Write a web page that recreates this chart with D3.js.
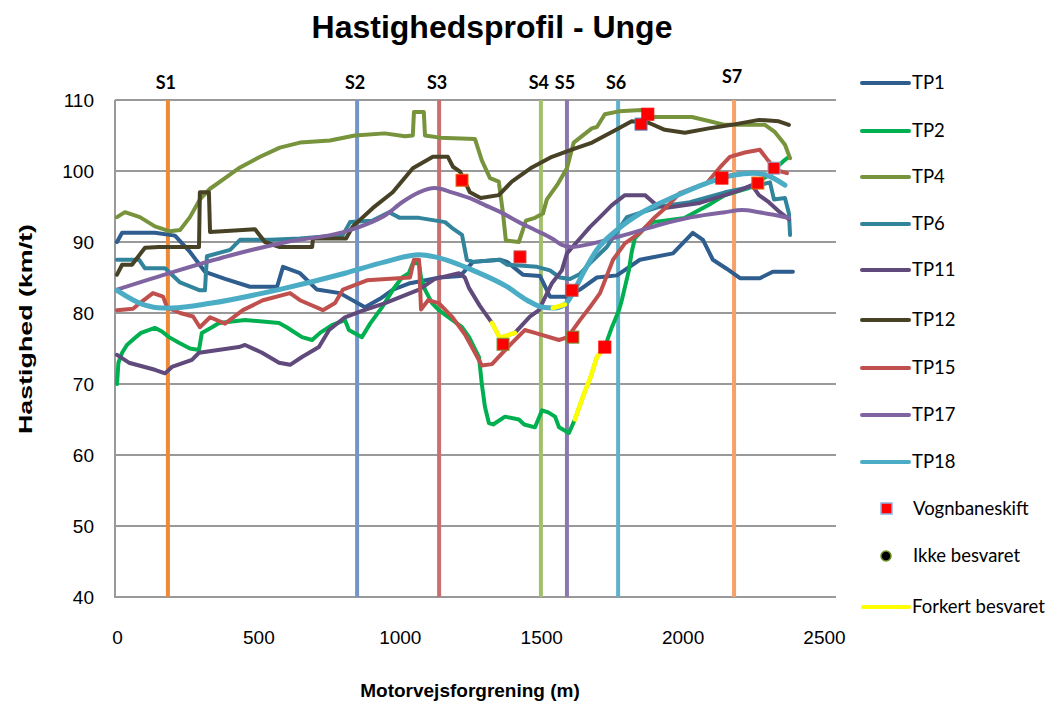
<!DOCTYPE html>
<html>
<head>
<meta charset="utf-8">
<script src="https://cdn.jsdelivr.net/npm/d3@7"></script>
<style>
  body { margin: 0; background: #fff; }
  text { font-family: "Liberation Sans", Arial, sans-serif; }
  .lbl { font-family: Lato, "Open Sans", sans-serif; }
</style>
</head>
<body>
<svg id="chart" width="1060" height="707"></svg>
<script>
// tick values
const xTicks = [0, 500, 1000, 1500, 2000, 2500]
const yTicks = [40, 50, 60, 70, 80, 90, 100, 110]

// the section markers S1..S7 (meters)
const sections = ['S1', 'S2', 'S3', 'S4', 'S5', 'S6', 'S7']
const sectionPos = [180, 849, 1139, 1499, 1591, 1772, 2182]

// speed traces, [meters, km/t]
const tp1 = [[0,90],[18,91.3],[134,91.3],[205,90.9],[258,88.6],[311,85.8],[382,84.8],[470,83.7],[566,83.7],[587,86.5],[647,85.6],[707,83.3],[788,82.8],[877,80.8],[930,82],[976,83.3],[1036,84.2],[1142,85],[1213,85.2],[1259,87.2],[1354,87.5],[1379,87.2],[1435,85.4],[1496,85.2],[1531,82.3],[1591,82.3],[1637,83.3],[1697,85],[1768,85.3],[1849,87.5],[1966,88.4],[2012,90.3],[2036,91.3],[2072,90.3],[2107,87.5],[2157,86.2],[2178,85.6],[2203,84.9],[2273,84.9],[2319,85.8],[2390,85.8]]
const tp2 = [[0,70],[5,73],[18,74.4],[35,75.5],[64,76.5],[85,77.2],[134,77.9],[159,77.4],[184,76.6],[219,75.8],[258,75],[290,74.8],[300,77.2],[336,78],[361,78.6],[453,79],[573,78.6],[600,78],[654,76.6],[690,76.2],[718,77.2],[760,78.3],[806,79],[820,77.6],[866,76.6],[895,78.5],[937,80.8],[976,83.3],[1008,85],[1032,85.6],[1046,87],[1068,87],[1075,85],[1089,83.3],[1114,81.4],[1138,80.4],[1220,78],[1245,76.6],[1280,73.8],[1290,70],[1301,66.8],[1315,64.5],[1330,64.3],[1372,65.4],[1421,65],[1440,64.3],[1478,63.9],[1503,66.3],[1525,66],[1549,65.4],[1563,63.9],[1598,63.1],[1619,65],[1650,68.5],[1675,71],[1697,73.8],[1725,75.2],[1750,78],[1775,80.4],[1785,81.8],[1810,86],[1820,88.6],[1831,90.5],[1867,92],[1895,92.8],[2008,93.4],[2100,95.4],[2150,96.6],[2234,97.6],[2270,98.6],[2305,99.4],[2335,100.6],[2360,101.5],[2376,102]]
const tp4 = [[0,93.5],[28,94.2],[81,93.5],[134,92.2],[187,91.5],[223,91.7],[258,93.5],[293,96],[329,97.5],[382,99],[435,100.5],[506,102],[576,103.3],[647,104],[753,104.3],[841,105],[947,105.3],[1018,104.9],[1046,105],[1050,108.3],[1085,108.3],[1089,105],[1142,104.7],[1266,104.5],[1290,101.5],[1319,99],[1350,98.5],[1365,94],[1375,90.2],[1421,90],[1446,93],[1478,93.4],[1506,94],[1520,96],[1556,98],[1591,100.4],[1615,104],[1679,106],[1697,106.2],[1725,108],[1775,108.4],[1856,108.6],[1891,107.6],[2033,107.6],[2096,107],[2149,106.5],[2291,106.5],[2326,105.5],[2344,104.6],[2362,103.7],[2380,101.8]]
const tp6 = [[0,87.5],[78,87.5],[99,86.3],[170,86.3],[223,84.3],[293,83.2],[311,83.2],[318,88],[400,88.9],[435,90.3],[516,90.3],[541,90.3],[647,90.5],[799,91],[824,92.8],[902,93],[962,94.2],[1000,93.4],[1068,93.4],[1160,92.8],[1184,92],[1220,91],[1237,87.5],[1259,87.2],[1354,87.5],[1379,86.8],[1485,86.5],[1531,86],[1566,85],[1602,84.8],[1637,85.5],[1672,87],[1732,89.3],[1803,93.5],[1920,95],[2026,95.6],[2150,97],[2270,98],[2309,98.4],[2323,96],[2362,96.2],[2376,94],[2380,91]]
const tp11 = [[0,74.1],[42,73],[134,72],[170,71.5],[194,72.4],[265,73.4],[290,74.4],[431,75.2],[453,75.5],[513,74.4],[573,73],[612,72.7],[654,73.8],[714,75.2],[750,77.6],[806,79.4],[859,80.2],[948,81.4],[1068,83.3],[1124,84.8],[1209,85.6],[1230,85],[1245,83.5],[1283,81],[1326,78.6],[1354,76.5],[1407,77.2],[1460,79.5],[1492,80.4],[1538,84.2],[1573,86],[1591,88.4],[1637,90.5],[1672,92.1],[1708,93.5],[1750,95.2],[1796,96.6],[1867,96.6],[1902,95.4],[1937,94.8],[2061,95.5],[2150,96.6],[2203,97.3],[2245,98],[2270,96.6],[2305,95.6],[2344,94.2],[2376,93.2]]
const tp12 = [[0,85.4],[18,86.8],[53,86.8],[99,89.2],[148,89.3],[290,89.3],[293,97],[325,97],[329,91.4],[488,91.8],[523,90],[573,89.3],[690,89.3],[693,90.5],[810,90.5],[834,92.2],[905,94.8],[975,97],[1046,100.4],[1117,102],[1170,102],[1188,100.6],[1213,99.9],[1248,97],[1286,96.2],[1350,96.6],[1396,98.5],[1467,100.5],[1538,102],[1608,103],[1680,104],[1750,105.5],[1820,107],[1880,106.8],[1937,105.8],[2008,105.4],[2093,106],[2174,106.5],[2270,107.2],[2340,107],[2376,106.5]]
const tp15 = [[0,80.4],[57,80.6],[81,81.4],[127,82.8],[163,82.3],[177,80.8],[223,80],[269,79.5],[293,78],[329,79.4],[382,78.5],[445,80.4],[516,81.8],[612,82.8],[647,81.8],[728,80.4],[771,81.4],[799,83.3],[884,84.6],[1036,85],[1050,87.5],[1068,87.5],[1075,80.5],[1100,81.8],[1138,81.4],[1184,79.5],[1230,77],[1266,74.4],[1290,72.6],[1326,72.8],[1354,74],[1397,75.8],[1442,77.6],[1478,77.2],[1563,76.2],[1594,76.6],[1637,79],[1672,80.8],[1708,82.8],[1754,87.5],[1796,89.8],[1849,91.3],[1902,93.5],[1945,95],[1990,96.9],[2086,98.3],[2132,100.5],[2167,102],[2220,102.6],[2273,103],[2302,101.5],[2333,100.1],[2369,99.7]]
const tp17 = [[0,83.3],[200,85.8],[400,88.1],[600,90],[800,91.4],[900,92.8],[950,93.8],[1008,95.6],[1068,97],[1124,97.6],[1184,97],[1245,96.2],[1301,95.2],[1361,94.1],[1421,92.8],[1478,91.7],[1538,90.5],[1573,89.6],[1608,89.3],[1680,89.8],[1796,91],[1916,92.4],[2033,93.5],[2150,94.2],[2210,94.5],[2270,94.2],[2326,93.8],[2376,93.4]]
const tp18 = [[0,83.2],[99,81.1],[159,80.7],[194,80.7],[336,81.4],[573,83.3],[806,85.6],[948,87.2],[1068,88.2],[1124,87.9],[1184,87.2],[1259,86],[1379,83.7],[1450,81.8],[1506,80.8],[1541,80.7],[1584,81.2],[1612,82.8],[1648,85.6],[1697,88.9],[1768,91.7],[1849,94],[1966,96.3],[2086,98.3],[2178,99.4],[2249,99.7],[2298,99.4],[2362,98]]

const seriesNames = ['TP1', 'TP2', 'TP4', 'TP6', 'TP11', 'TP12', 'TP15', 'TP17', 'TP18']
const seriesData = [tp1, tp2, tp4, tp6, tp11, tp12, tp15, tp17, tp18]
const seriesColors = ['#2e5d8e', '#00b050', '#77933c', '#31849b', '#604a7b', '#474226', '#c0504d', '#8064a2', '#4bacc6']
const smoothSeries = ['TP17', 'TP18']

// Vognbaneskift markers, [meters, km/t]
const vognbaneskift = [[1220,98.7],[1425,87.9],[1365,75.6],[1609,83.2],[1612,76.6],[1725,75.2],[1853,106.6],[1877,108],[2139,99],[2266,98.3],[2323,100.4]]
const vognBorder = ['#e36c09', '#c0504d', '#77933c', '#c0504d', '#77933c', '#ff0000', '#4f81bd', '#ff0000', '#ff0000', '#e36c09', '#8db3e2']

// Forkert besvaret stretches: series + meter range
const forkertSeries = ['TP11', 'TP18', 'TP2']
const forkertFrom = [1326, 1541, 1619]
const forkertTo = [1407, 1590, 1725]

const sectionColors = ['#ee8a37', '#7395ca', '#c8706f', '#a2c06a', '#8b78ae', '#5fb2ca', '#f7a068']

const svg = d3.select('#chart')

const x = d3.scaleLinear().domain([0, 2500]).range([117, 824])
const y = d3.scaleLinear().domain([40, 110]).range([597, 100])
const gridRight = 836

// title
svg.append('text')
  .attr('x', 492).attr('y', 38)
  .attr('text-anchor', 'middle')
  .style('font-size', '32px').style('font-weight', 'bold')
  .text('Hastighedsprofil - Unge')

// grid lines
svg.append('g').selectAll('line')
  .data(yTicks)
  .join('line')
    .attr('x1', 115).attr('x2', gridRight)
    .attr('y1', d => y(d)).attr('y2', d => y(d))
    .attr('stroke', '#999').attr('stroke-width', 2)

svg.append('line')
  .attr('x1', 115).attr('x2', 115)
  .attr('y1', y(110)).attr('y2', y(40) + 1)
  .attr('stroke', '#999').attr('stroke-width', 2)

// y axis
const yAxis = svg.append('g')
  .attr('transform', 'translate(98,0)')
  .call(d3.axisLeft(y).tickValues(yTicks).tickSize(0).tickPadding(4))
yAxis.select('.domain').remove()
yAxis.selectAll('text')
  .style('font-size', '19px').style('font-family', '"Liberation Sans", Arial, sans-serif')
  .attr('fill', '#000')

// x axis
const xAxis = svg.append('g')
  .attr('transform', `translate(0,${y(40) + 30})`)
  .call(d3.axisBottom(x).tickValues(xTicks).tickSize(0).tickFormat(d3.format('d')))
xAxis.select('.domain').remove()
xAxis.selectAll('text')
  .style('font-size', '19px').style('font-family', '"Liberation Sans", Arial, sans-serif')
  .attr('fill', '#000')

// axis titles
svg.append('text')
  .attr('x', 470).attr('y', 697)
  .attr('text-anchor', 'middle')
  .style('font-size', '19px').style('font-weight', 'bold')
  .text('Motorvejsforgrening (m)')

svg.append('text')
  .attr('transform', 'translate(32,329) rotate(-90)')
  .attr('text-anchor', 'middle')
  .attr('textLength', 210).attr('lengthAdjust', 'spacingAndGlyphs')
  .style('font-size', '19px').style('font-weight', 'bold')
  .text('Hastighed (km/t)')

// section lines
svg.append('g').selectAll('line')
  .data(sectionPos)
  .join('line')
    .attr('x1', d => x(d)).attr('x2', d => x(d))
    .attr('y1', y(110)).attr('y2', y(40))
    .attr('stroke', (d, i) => sectionColors[i])
    .attr('stroke-width', 4)

svg.append('g').selectAll('text')
  .data(sections)
  .join('text')
    .attr('class', 'lbl')
    .attr('x', (d, i) => x(sectionPos[i]) - 2)
    .attr('y', (d, i) => i === 6 ? 83 : 89)
    .attr('text-anchor', 'middle')
    .style('font-size', '18px').style('font-weight', 'bold')
    .text(d => d)

// speed traces
function lineFor(name) {
  return d3.line()
    .x(d => x(d[0])).y(d => y(d[1]))
    .curve(smoothSeries.includes(name) ? d3.curveMonotoneX : d3.curveLinear)
}

seriesNames.forEach(function(name, i) {
  svg.append('path')
    .datum(seriesData[i])
    .attr('d', lineFor(name))
    .attr('fill', 'none')
    .attr('stroke', seriesColors[i])
    .attr('stroke-width', name === 'TP18' ? 5 : 4)
    .attr('stroke-linejoin', 'round')
    .attr('stroke-linecap', 'round')
})

// forkert besvaret pieces
forkertSeries.forEach(function(name, i) {
  const data = seriesData[seriesNames.indexOf(name)]
    .filter(d => d[0] >= forkertFrom[i] && d[0] <= forkertTo[i])
  svg.append('path')
    .datum(data)
    .attr('d', lineFor(name))
    .attr('fill', 'none')
    .attr('stroke', '#ffff00')
    .attr('stroke-width', 4.5)
    .attr('stroke-linejoin', 'round')
    .attr('stroke-linecap', 'round')
})

// vognbaneskift markers
svg.append('g').selectAll('rect')
  .data(vognbaneskift)
  .join('rect')
    .attr('x', d => x(d[0]) - 6).attr('y', d => y(d[1]) - 6)
    .attr('width', 12).attr('height', 12)
    .attr('fill', '#ff0000')
    .attr('stroke', (d, i) => vognBorder[i])
    .attr('stroke-width', 1)

// legend
const legend = svg.append('g')
const legendY = [83, 131, 177, 224, 270, 320, 368, 415, 462]
seriesNames.forEach(function(name, i) {
  legend.append('line')
    .attr('x1', 862).attr('x2', 909)
    .attr('y1', legendY[i]).attr('y2', legendY[i])
    .attr('stroke', seriesColors[i]).attr('stroke-width', 4)
    .attr('stroke-linecap', 'round')
  legend.append('text')
    .attr('class', 'lbl')
    .attr('x', 912).attr('y', legendY[i] + 6)
    .style('font-size', '18.5px')
    .text(name)
})

legend.append('rect')
  .attr('x', 881).attr('y', 503).attr('width', 11).attr('height', 11)
  .attr('fill', '#ff0000').attr('stroke', '#8db3e2').attr('stroke-width', 1.5)
legend.append('text')
  .attr('class', 'lbl')
  .attr('x', 913).attr('y', 515)
  .style('font-size', '18.5px')
  .text('Vognbaneskift')

legend.append('circle')
  .attr('cx', 886).attr('cy', 556).attr('r', 5)
  .attr('fill', '#000').attr('stroke', '#6b8e23').attr('stroke-width', 1.5)
legend.append('text')
  .attr('class', 'lbl')
  .attr('x', 913).attr('y', 562)
  .style('font-size', '18.5px')
  .text('Ikke besvaret')

legend.append('line')
  .attr('x1', 863).attr('x2', 909)
  .attr('y1', 607).attr('y2', 607)
  .attr('stroke', '#ffff00').attr('stroke-width', 4)
  .attr('stroke-linecap', 'round')
legend.append('text')
  .attr('class', 'lbl')
  .attr('x', 912).attr('y', 613)
  .style('font-size', '18.5px')
  .text('Forkert besvaret')
</script>
</body>
</html>
